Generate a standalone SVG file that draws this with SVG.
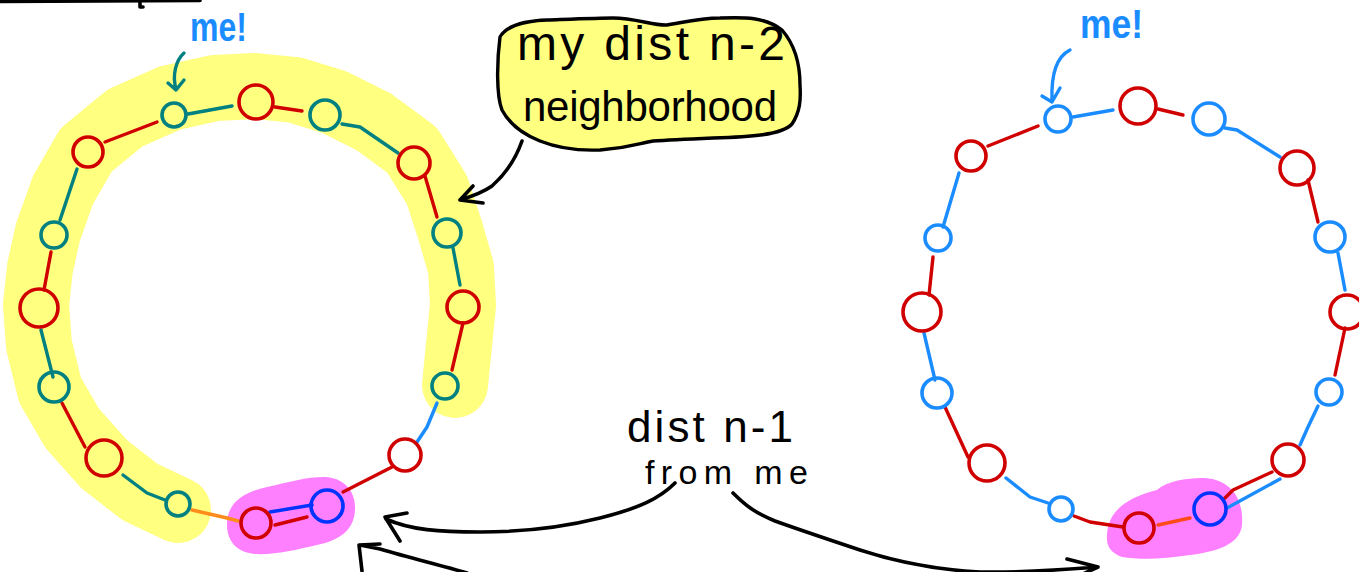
<svg xmlns="http://www.w3.org/2000/svg" width="1359" height="572" viewBox="0 0 1359 572">
<style>
.n circle{fill:none;stroke-width:3.6}
.red circle{stroke:#d10000}
.teal circle{stroke:#008080}
.lb circle{stroke:#1a8cff}
.db circle{stroke:#0033ff}
.e{fill:none;stroke-width:3.4;stroke-linecap:round;stroke-linejoin:round}
.er{stroke:#d10000}.et{stroke:#008080}.eb{stroke:#1a8cff}.ed{stroke:#0033ff}
.ink{fill:none;stroke:#000;stroke-width:3.6;stroke-linecap:round;stroke-linejoin:round}
.hw{font-family:"Liberation Sans","DejaVu Sans",sans-serif;fill:#000}
.me{font-family:"Liberation Sans","DejaVu Sans",sans-serif;fill:#1a8cff;font-weight:bold}
</style>
<rect width="1359" height="572" fill="#fff"/>

<g id="highlights">
<polyline points="178,510 140,492 104,464 72,428 50,390 39,345 36,305 40,268 48,232 63,190 86,150 125,118 170,98 215,88 255,86 295,90 334,102 374,122 412,150 437,190 450,230 461,268 463,305 459,345 455,385" fill="none" stroke="#ffff80" stroke-width="66" stroke-linecap="round" stroke-linejoin="round"/>
<path d="M227,527 C226,505 240,493 267,487 C290,482 305,477 325,477 C345,478 356,492 355,510 C354,530 340,540 317,545 C295,550 275,555 255,554 C235,552 228,540 227,527 Z" fill="#ff80ff"/>
<path d="M1107,535 C1108,512 1125,498 1157,490 C1165,483 1180,478 1205,478 C1232,480 1244,500 1242,525 C1240,545 1215,552 1190,555 C1165,559 1140,560 1122,557 C1110,553 1106,545 1107,535 Z" fill="#ff80ff"/>
</g>

<g id="fragment">
<path class="ink" d="M0,1.5 L200,0.5"/>
<path class="ink" d="M140,0 L140,7 L143,7"/>
</g>

<g id="connectors">
<path class="e er" d="M105,142 L157,122"/>
<path class="e et" d="M188,114 L232,106"/>
<path class="e er" d="M275,107 L302,111"/>
<path class="e et" d="M342,124 L360,127 L398,153"/>
<path class="e er" d="M425,176 L437,217"/>
<path class="e et" d="M453,248 L460,285"/>
<path class="e er" d="M463,323 L452,370"/>
<path class="e eb" d="M437,403 L427,427 L417,442"/>
<path class="e er" d="M343,492 L392,467"/>
<path class="e ed" d="M270,512 L312,505"/>
<path class="e er" d="M275,525 L307,517"/>
<path class="e" stroke="#ff8c1a" d="M192,510 L227,518 L238,521"/>
<path class="e et" d="M123,475 L147,493 L165,500"/>
<path class="e er" d="M62,403 L85,447"/>
<path class="e et" d="M41,330 L53,377"/>
<path class="e er" d="M51,252 L44,290"/>
<path class="e et" d="M77,169 L60,220"/>
<path class="e er" d="M988,146 L1038,126"/>
<path class="e eb" d="M1073,117 L1113,110"/>
<path class="e er" d="M1158,109 L1183,115"/>
<path class="e eb" d="M1225,128 L1237,130 L1280,157"/>
<path class="e er" d="M1308,180 L1318,222"/>
<path class="e eb" d="M1338,253 L1345,290"/>
<path class="e er" d="M1345,328 L1335,375"/>
<path class="e eb" d="M1318,406 L1308,427 L1300,445"/>
<path class="e er" d="M1225,498 L1233,490 L1272,472"/>
<path class="e eb" d="M1227,508 L1280,479"/>
<path class="e" stroke="#ff4a1a" d="M1158,525 L1190,518"/>
<path class="e er" d="M1074,516 L1090,522 L1123,527"/>
<path class="e eb" d="M1006,478 L1030,497 L1048,503"/>
<path class="e er" d="M945,407 L968,457"/>
<path class="e eb" d="M924,333 L935,380"/>
<path class="e er" d="M933,257 L929,295"/>
<path class="e eb" d="M959,173 L943,227"/>
<path class="e et" d="M184,53 C176,60 172,75 176,89 M168,83 L176,90 L184,80"/>
<path class="e eb" d="M1070,50 C1058,56 1051,72 1052,100 M1042,96 L1052,102 L1060,88"/>
<path class="ink" d="M522,141 C516,158 508,172 492,186 C482,193 470,197 460,200 M473,186 L460,200 L483,203"/>
<path class="ink" d="M675,483 C660,498 640,508 600,518 C560,528 520,532 480,532 C440,532 410,530 386,519 M407,513 L385,517 L400,541"/>
<path class="ink" d="M467,573 C440,565 410,558 380,549 L360,545 M380,544 L359,545 L362,571"/>
<path class="ink" d="M733,493 C745,505 755,513 775,521 C800,530 830,540 860,550 C900,563 940,570 980,572 C1020,573 1060,570 1097,567 M1067,559 L1098,567 L1070,580"/>
</g>

<g id="L0" class="n teal"><circle cx="174" cy="115" r="12"/></g>
<g id="L1" class="n red"><circle cx="256" cy="102" r="17"/></g>
<g id="L2" class="n teal"><circle cx="325" cy="115" r="15"/></g>
<g id="L3" class="n red"><circle cx="414" cy="163" r="16"/></g>
<g id="L4" class="n teal"><circle cx="447" cy="233" r="14"/></g>
<g id="L5" class="n red"><circle cx="463" cy="307" r="16"/></g>
<g id="L6" class="n teal"><circle cx="445" cy="386" r="13"/></g>
<g id="L7" class="n red"><circle cx="405" cy="455" r="16"/></g>
<g id="L8" class="n db"><circle cx="327" cy="506" r="16"/></g>
<g id="L9" class="n red"><circle cx="256" cy="523" r="15"/></g>
<g id="L10" class="n teal"><circle cx="178" cy="504" r="12"/></g>
<g id="L11" class="n red"><circle cx="104" cy="458" r="18"/></g>
<g id="L12" class="n teal"><circle cx="54" cy="387" r="15"/></g>
<g id="L13" class="n red"><circle cx="39" cy="308" r="19"/></g>
<g id="L14" class="n teal"><circle cx="54" cy="235" r="13"/></g>
<g id="L15" class="n red"><circle cx="88" cy="152" r="15"/></g>

<g id="R0" class="n lb"><circle cx="1058" cy="119" r="13"/></g>
<g id="R1" class="n red"><circle cx="1138" cy="106" r="18"/></g>
<g id="R2" class="n lb"><circle cx="1209" cy="119" r="16"/></g>
<g id="R3" class="n red"><circle cx="1297" cy="168" r="17"/></g>
<g id="R4" class="n lb"><circle cx="1330" cy="237" r="15"/></g>
<g id="R5" class="n red"><circle cx="1347" cy="312" r="17"/></g>
<g id="R6" class="n lb"><circle cx="1329" cy="392" r="13"/></g>
<g id="R7" class="n red"><circle cx="1288" cy="460" r="16"/></g>
<g id="R8" class="n db"><circle cx="1210" cy="509" r="16"/></g>
<g id="R9" class="n red"><circle cx="1139" cy="528" r="15"/></g>
<g id="R10" class="n lb"><circle cx="1061" cy="509" r="12"/></g>
<g id="R11" class="n red"><circle cx="987" cy="463" r="18"/></g>
<g id="R12" class="n lb"><circle cx="937" cy="393" r="15"/></g>
<g id="R13" class="n red"><circle cx="922" cy="312" r="19"/></g>
<g id="R14" class="n lb"><circle cx="938" cy="238" r="13"/></g>
<g id="R15" class="n red"><circle cx="971" cy="156" r="15"/></g>

<g id="me-left"><text class="me" x="190" y="41" font-size="40" textLength="57" lengthAdjust="spacingAndGlyphs">me!</text></g>
<g id="me-right"><text class="me" x="1080" y="38" font-size="40" textLength="63" lengthAdjust="spacingAndGlyphs">me!</text></g>

<g id="callout">
<path d="M500,37 C505,28 520,21 547,20 C575,19 600,18 613,18 C635,18 655,26 667,25 C685,22 700,18 720,18 C745,17 765,17 782,30 C795,45 800,65 800,85 C801,100 800,112 792,124 C782,135 750,137 713,138 C690,139 668,140 653,141 C640,143 630,148 600,150 C575,151 555,147 540,141 C525,135 510,125 502,110 C496,95 497,60 500,37 Z" fill="#ffff80" stroke="#000" stroke-width="3.4" stroke-linejoin="round"/>
<text class="hw" x="517" y="60" font-size="48" textLength="268" lengthAdjust="spacing">my dist n-2</text>
<text class="hw" x="523" y="121" font-size="42" textLength="254" lengthAdjust="spacing">neighborhood</text>
</g>

<g id="dist-label">
<text class="hw" x="627" y="442" font-size="44" textLength="166" lengthAdjust="spacing">dist n-1</text>
<text class="hw" x="645" y="484" font-size="34" textLength="163" lengthAdjust="spacing">from me</text>
</g>
</svg>
